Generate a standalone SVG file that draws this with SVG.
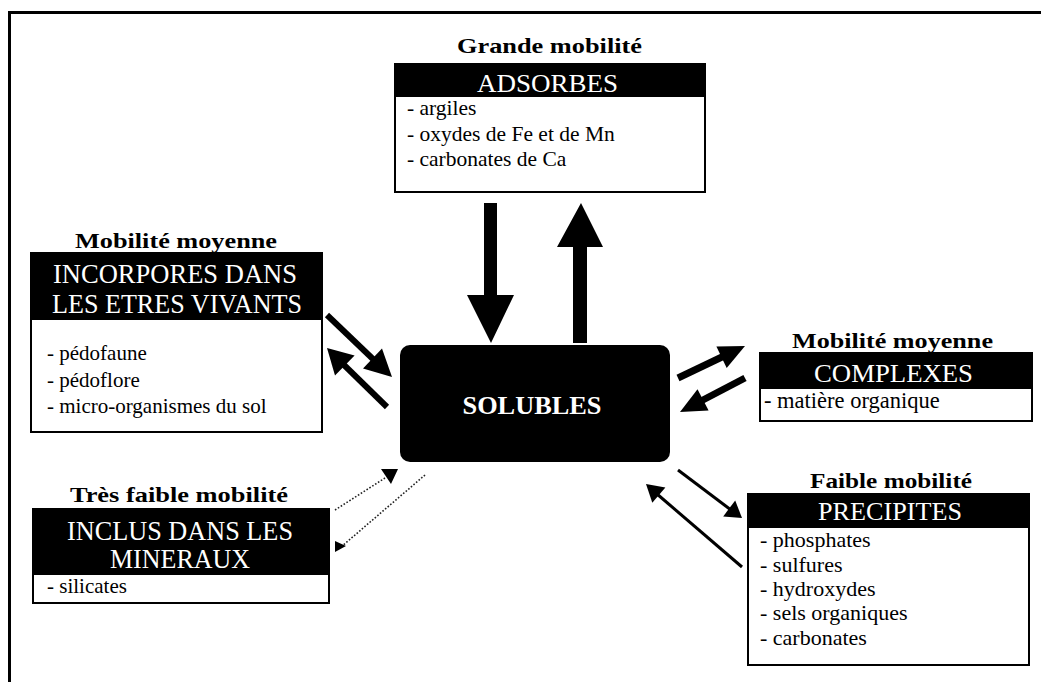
<svg xmlns="http://www.w3.org/2000/svg" width="1041" height="682" viewBox="0 0 1041 682" font-family="Liberation Serif, Times New Roman, serif">
<style>
text{fill:#000}
.t{font-weight:bold;font-size:22px;text-anchor:middle}
.h{font-size:25px;text-anchor:middle;fill:#fff}
.h2{font-size:27px;text-anchor:middle;fill:#fff}
.l{font-size:21.5px}
.box{fill:#fff;stroke:#000;stroke-width:2}
.hd{fill:#000}
.thick{stroke:#000;fill:none}
.dot{stroke:#222;stroke-width:1.6;stroke-dasharray:1.6 1.8;fill:none}
</style>
<rect width="1041" height="682" fill="#fff"/>
<path d="M9.5 682 V12.5 H1041" fill="none" stroke="#000" stroke-width="3"/>

<g id="adsorbes">
<text class="t" x="549.5" y="53" textLength="185" lengthAdjust="spacingAndGlyphs">Grande mobilité</text>
<rect class="box" x="395" y="64" width="310" height="128"/>
<rect class="hd" x="395" y="64" width="310" height="33"/>
<text class="h" x="547.5" y="92" textLength="141" lengthAdjust="spacingAndGlyphs">ADSORBES</text>
<text class="l" x="407" y="115">- argiles</text>
<text class="l" x="407" y="140.5">- oxydes de Fe et de Mn</text>
<text class="l" x="407" y="166">- carbonates de Ca</text>
</g>

<g id="incorpores">
<text class="t" x="176" y="248" textLength="202" lengthAdjust="spacingAndGlyphs">Mobilité moyenne</text>
<rect class="box" x="31" y="253" width="291" height="179"/>
<rect class="hd" x="31" y="253" width="291" height="67"/>
<text class="h2" x="175" y="283" textLength="244" lengthAdjust="spacingAndGlyphs">INCORPORES DANS</text>
<text class="h2" x="177" y="313" textLength="250" lengthAdjust="spacingAndGlyphs">LES ETRES VIVANTS</text>
<text class="l" style="font-size:21px" x="47" y="360">- pédofaune</text>
<text class="l" style="font-size:21px" x="47" y="386.5">- pédoflore</text>
<text class="l" style="font-size:21px" x="47" y="413">- micro-organismes du sol</text>
</g>

<g id="complexes">
<text class="t" x="892.5" y="348" textLength="201" lengthAdjust="spacingAndGlyphs">Mobilité moyenne</text>
<rect class="box" x="760" y="353" width="272" height="68"/>
<rect class="hd" x="760" y="353" width="272" height="36"/>
<text class="h" x="893.5" y="382" textLength="159" lengthAdjust="spacingAndGlyphs">COMPLEXES</text>
<text class="l" style="font-size:22.5px" x="764" y="408">- matière organique</text>
</g>

<g id="inclus">
<text class="t" x="179" y="502" textLength="218" lengthAdjust="spacingAndGlyphs">Très faible mobilité</text>
<rect class="box" x="33" y="509" width="296" height="94"/>
<rect class="hd" x="33" y="509" width="296" height="66"/>
<text class="h2" x="180" y="540" textLength="226" lengthAdjust="spacingAndGlyphs">INCLUS DANS LES</text>
<text class="h2" x="180" y="568" textLength="140" lengthAdjust="spacingAndGlyphs">MINERAUX</text>
<text class="l" style="font-size:21px" x="47" y="593">- silicates</text>
</g>

<g id="precipites">
<text class="t" x="891" y="488" textLength="162" lengthAdjust="spacingAndGlyphs">Faible mobilité</text>
<rect class="box" x="748" y="494" width="281" height="171"/>
<rect class="hd" x="748" y="494" width="281" height="34"/>
<text class="h" x="890" y="520" textLength="144" lengthAdjust="spacingAndGlyphs">PRECIPITES</text>
<text class="l" style="font-size:22px" x="760" y="547">- phosphates</text>
<text class="l" style="font-size:22px" x="760" y="572">- sulfures</text>
<text class="l" style="font-size:22px" x="760" y="596">- hydroxydes</text>
<text class="l" style="font-size:22px" x="760" y="620">- sels organiques</text>
<text class="l" style="font-size:22px" x="760" y="645">- carbonates</text>
</g>

<g id="solubles">
<rect x="400" y="345" width="270" height="117" rx="10" fill="#000"/>
<text style="font-weight:bold;font-size:25px;fill:#fff;text-anchor:middle" x="532" y="414" textLength="139" lengthAdjust="spacingAndGlyphs">SOLUBLES</text>
</g>

<g id="connectors">
<polygon points="484,203 497,203 497,295 514,295 491,343 467,295 484,295" fill="#000"/>
<polygon points="581,203 603,247 587,247 587,343 573,343 573,247 557,247" fill="#000"/>
<line class="thick" x1="327" y1="315" x2="374" y2="360" stroke-width="6"/>
<polygon points="392,377 363,368.5 382,348.5" fill="#000"/>
<line class="thick" x1="387" y1="407" x2="343" y2="364" stroke-width="6"/>
<polygon points="327,348 354.6,355.5 335,375.5" fill="#000"/>
<line class="thick" x1="678" y1="378" x2="723" y2="356.5" stroke-width="7"/>
<polygon points="745,346 726.7,368 716.4,346.4" fill="#000"/>
<line class="thick" x1="745" y1="378" x2="701" y2="401" stroke-width="7"/>
<polygon points="680,412 708.6,410.6 697.5,389.3" fill="#000"/>
<line class="thick" x1="678" y1="470" x2="731" y2="510" stroke-width="3"/>
<polygon points="742,518 723.2,516.4 735.2,500.4" fill="#000"/>
<line class="thick" x1="742" y1="567" x2="657" y2="494" stroke-width="3"/>
<polygon points="646,484 665.4,487.6 652.3,502.7" fill="#000"/>
<line class="dot" x1="335" y1="510" x2="385" y2="478"/>
<polygon points="381,469 398,469 391,484" fill="#000"/>
<line class="dot" x1="425" y1="475" x2="341" y2="547"/>
<polygon points="335,541 346,546 335,552" fill="#000"/>
</g>
</svg>
